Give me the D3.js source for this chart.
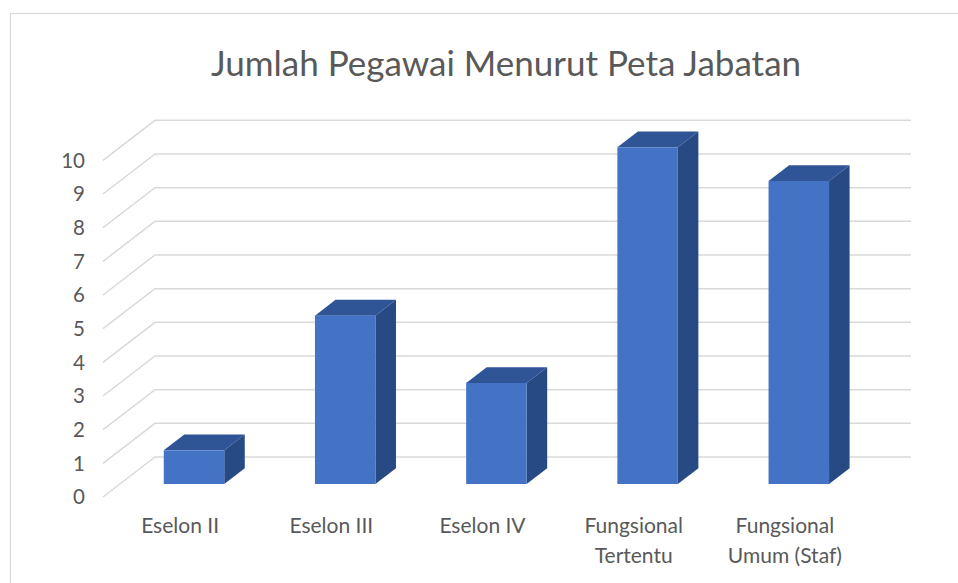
<!DOCTYPE html>
<html><head><meta charset="utf-8">
<script src="https://cdn.jsdelivr.net/npm/d3@7"></script>
<style>body{margin:0;background:#fff}svg{display:block}text{font-family:Lato,"Open Sans",sans-serif}</style>
</head><body>
<svg id="c" width="958" height="583"></svg>
<script>
const title = "Jumlah Pegawai Menurut Peta Jabatan";
const categories = ["Eselon II", "Eselon III", "Eselon IV", "Fungsional Tertentu", "Fungsional Umum (Staf)"];
const values = [1, 5, 3, 10, 9];
const yTicks = [0, 1, 2, 3, 4, 5, 6, 7, 8, 9, 10];

const svg = d3.select("#c");
// chart border
svg.append("rect").attr("x", 10.5).attr("y", 13.5).attr("width", 1000).attr("height", 700)
  .attr("fill", "none").attr("stroke", "#d9d9d9").attr("stroke-width", 1.2);

const depth = {dx: 52, dy: -40};
const x = d3.scaleBand().domain(categories).range([103, 859]).paddingInner(0.6).paddingOuter(0.3);
const y = d3.scaleLinear().domain([0, 10]).range([497, 160.3]);

// gridlines (floor diagonal + back wall)
const grid = svg.append("g");
yTicks.forEach(t => {
  const yy = y(t);
  grid.append("path")
    .attr("d", `M103,${yy}L${103 + depth.dx},${yy + depth.dy}L911,${yy + depth.dy}`)
    .attr("fill", "none").attr("stroke", "#d9d9d9").attr("stroke-width", 1.5);
});

// tick labels
svg.append("g").selectAll("text").data(yTicks).join("text")
  .attr("x", 85).attr("y", d => y(d)).attr("dy", "0.36em")
  .attr("text-anchor", "end").attr("font-size", 20.5).attr("fill", "#595959")
  .text(d => d);

// bars
const f0 = 0.325, f1 = 0.72;
const bars = svg.append("g");
categories.forEach((c, i) => {
  const v = values[i];
  const x0 = x(c) + depth.dx * f0 - 1.5, x1 = x0 + x.bandwidth();
  const yb = y(0) + depth.dy * f0, yt = y(v) + depth.dy * f0;
  const ddx = depth.dx * (f1 - f0), ddy = depth.dy * (f1 - f0);
  // top
  bars.append("path").attr("d", `M${x0},${yt}L${x1},${yt}L${x1 + ddx},${yt + ddy}L${x0 + ddx},${yt + ddy}Z`)
    .attr("fill", "#2f5597");
  // side
  bars.append("path").attr("d", `M${x1},${yt}L${x1 + ddx},${yt + ddy}L${x1 + ddx},${yb + ddy}L${x1},${yb}Z`)
    .attr("fill", "#284a84");
  // front
  bars.append("rect").attr("x", x0).attr("y", yt).attr("width", x1 - x0).attr("height", yb - yt)
    .attr("fill", "#4472c4");
});

// category labels
const lab = svg.append("g");
categories.forEach(c => {
  const cx = x(c) + x.bandwidth() / 2 + 1.5;
  const lines = c.length > 12 ? [c.slice(0, c.indexOf(" ")), c.slice(c.indexOf(" ") + 1)] : [c];
  lines.forEach((l, j) => {
    lab.append("text").attr("x", cx).attr("y", 533 + j * 30)
      .attr("text-anchor", "middle").attr("font-size", 21).attr("fill", "#595959").text(l);
  });
});

// title
svg.append("text").attr("x", 506).attr("y", 76).attr("text-anchor", "middle")
  .attr("font-size", 35).attr("fill", "#595959").text(title);
</script>
</body></html>
